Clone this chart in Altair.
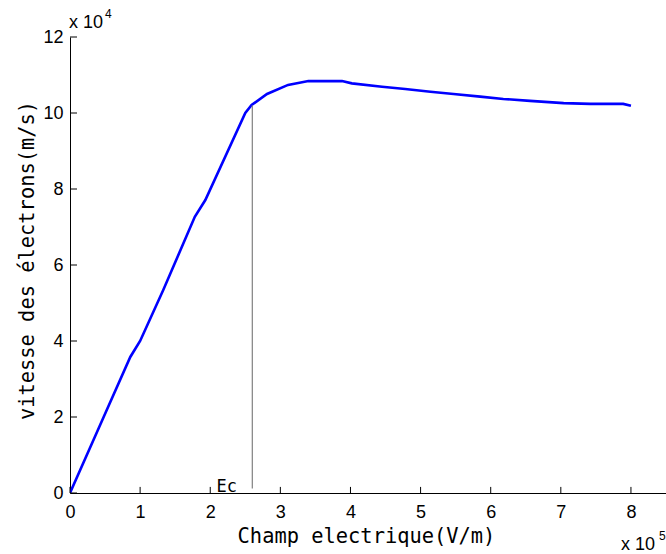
import altair as alt
import pandas as pd

# Data (x in 1e5 V/m, y in 1e4 m/s)
field_x = [0, 0.48, 0.86, 1.0, 1.33, 1.78, 1.93, 2.50, 2.59, 2.81, 3.11, 3.40,
           3.88, 4.02, 4.45, 4.78, 5.14, 5.47, 5.85, 6.18, 6.56, 7.04, 7.42, 7.89, 8.0]
speed_y = [0, 2.0, 3.58, 4.0, 5.34, 7.27, 7.71, 10.0, 10.21, 10.5, 10.74, 10.84,
           10.84, 10.78, 10.69, 10.63, 10.56, 10.5, 10.43, 10.37, 10.32, 10.26, 10.24, 10.24, 10.19]
x_ticks = [0, 1, 2, 3, 4, 5, 6, 7, 8]
y_ticks = [0, 2, 4, 6, 8, 10, 12]
ec_x = [2.6]
ec_y0 = [0.12]
ec_y1 = [10.2]
ec_label = ["Ec"]
ec_label_x = [2.09]

W, H = 596, 456
MONO = "DejaVu Sans Mono"
SANS = "Liberation Sans"

df = pd.DataFrame({"x": field_x, "y": speed_y})
df_ec = pd.DataFrame({"x": ec_x, "y": ec_y0, "y2": ec_y1})
df_lab = pd.DataFrame({"x": ec_label_x, "y": [0.0], "t": ec_label})
df_xt = pd.DataFrame({"v": x_ticks, "a": [0.0] * len(x_ticks), "b": [0.16] * len(x_ticks)})
df_yt = pd.DataFrame({"v": y_ticks, "a": [0.0] * len(y_ticks), "b": [0.1] * len(y_ticks)})
one = pd.DataFrame({"k": [0]})

xscale = alt.Scale(domain=[0, 8.5], nice=False, zero=False)
yscale = alt.Scale(domain=[0, 12], nice=False, zero=False)

xaxis = alt.Axis(values=x_ticks, format="d", ticks=False, tickSize=0, grid=False,
                 domainColor="black", domainWidth=1, labelFont=SANS, labelFontSize=18,
                 labelColor="black", labelBaseline="alphabetic", labelPadding=24,
                 labelFlush=False,
                 title="Champ electrique(V/m)", titleFont=MONO, titleFontSize=20.4,
                 titleFontWeight="normal", titleColor="black", titleX=296, titleY=49,
                 titleBaseline="alphabetic", titleAlign="center")
yaxis = alt.Axis(values=y_ticks, format="d", ticks=False, tickSize=0, grid=False,
                 domainColor="black", domainWidth=1, labelFont=SANS, labelFontSize=18,
                 labelColor="black", labelPadding=7, labelFlush=False,
                 title="vitesse des électrons(m/s)", titleFont=MONO, titleFontSize=20.4,
                 titleFontWeight="normal", titleColor="black", titleX=-37, titleY=223,
                 titleAngle=-90, titleBaseline="alphabetic", titleAlign="center")

line = alt.Chart(df).mark_line(color="#0000ff", strokeWidth=2.6, clip=True).encode(
    x=alt.X("x:Q", scale=xscale, axis=xaxis),
    y=alt.Y("y:Q", scale=yscale, axis=yaxis),
)

ec_rule = alt.Chart(df_ec).mark_rule(color="#808080", strokeWidth=1.2).encode(
    x=alt.X("x:Q", scale=xscale), y=alt.Y("y:Q", scale=yscale), y2="y2:Q"
)

ec_text = alt.Chart(df_lab).mark_text(font=MONO, fontSize=17, align="left",
                                      baseline="alphabetic", dy=-1, color="black").encode(
    x=alt.X("x:Q", scale=xscale), y=alt.Y("y:Q", scale=yscale), text="t:N"
)

xt = alt.Chart(df_xt).mark_rule(color="black", strokeWidth=1).encode(
    x=alt.X("v:Q", scale=xscale), y=alt.Y("a:Q", scale=yscale), y2="b:Q"
)
yt = alt.Chart(df_yt).mark_rule(color="black", strokeWidth=1).encode(
    y=alt.Y("v:Q", scale=yscale), x=alt.X("a:Q", scale=xscale), x2="b:Q"
)


def label(text, px, py, fs):
    return alt.Chart(one).mark_text(text=text, font=SANS, fontSize=fs, align="left",
                                    baseline="alphabetic", color="black").encode(
        x=alt.value(px), y=alt.value(py)
    )


exps = [label("x 10", -1, -9, 18), label("4", 35, -19, 12),
        label("x 10", 551, 513, 18), label("5", 589, 503, 12)]

chart = alt.layer(line, ec_rule, ec_text, xt, yt, *exps).properties(
    width=W, height=H,
    background="white",
    autosize=alt.AutoSizeParams(type="none"),
    padding={"left": 70, "top": 37, "right": 0, "bottom": 61},
).configure_view(stroke=None)

chart.save("out.html", embed_options={"renderer": "svg", "actions": False})
